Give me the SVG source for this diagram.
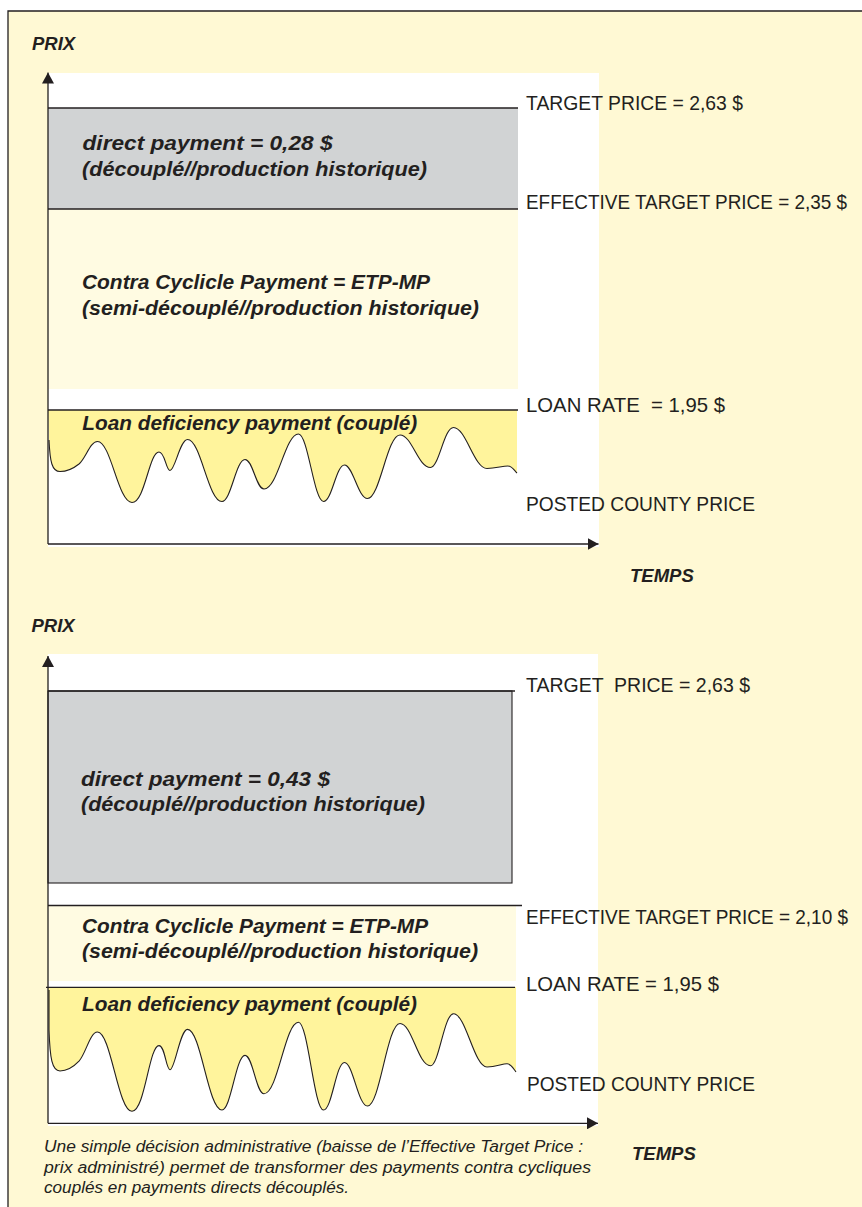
<svg xmlns="http://www.w3.org/2000/svg" width="862" height="1207" viewBox="0 0 862 1207">
<style>
.bg{fill:#FFF9D4}
.panel{fill:#FFFFFF}
.gray{fill:#D1D3D4}
.cream{fill:#FFFBE2}
.ldp{fill:#FFF49C}
.ln{stroke:#231F20;stroke-width:1.3;fill:none}
.wave{stroke:#231F20;stroke-width:1.1;fill:none}
.lbl{font-family:"Liberation Sans",Arial,sans-serif;font-size:21px;fill:#231F20}
.bi{font-family:"Liberation Sans",Arial,sans-serif;font-weight:bold;font-style:italic;font-size:21px;fill:#231F20}
.ax{font-family:"Liberation Sans",Arial,sans-serif;font-weight:bold;font-style:italic;font-size:18.5px;fill:#231F20}
.note{font-family:"Liberation Sans",Arial,sans-serif;font-style:italic;font-size:16px;fill:#231F20}
</style>
<defs>
<marker id="arr" viewBox="0 0 11 12" refX="11" refY="6" markerWidth="11" markerHeight="12" markerUnits="userSpaceOnUse" orient="auto">
<path d="M0,0 L11,6 L0,12 Z" fill="#231F20"/>
</marker>
</defs>
<rect x="0" y="0" width="862" height="1207" fill="#FFFFFF"/>
<g id="frame">
<rect class="bg" x="8" y="11" width="854" height="1196"/>
<path class="ln" d="M8,1207 L8,11 L862,11"/>
</g>

<g id="chart1">
<rect class="panel" x="48" y="73" width="551" height="474"/>
<g id="direct-payment-1">
<rect class="gray" x="48" y="108" width="470" height="101"/>
<text class="bi" x="82.5" y="150" textLength="250" lengthAdjust="spacingAndGlyphs">direct payment = 0,28 $</text>
<text class="bi" x="82" y="176" textLength="345" lengthAdjust="spacingAndGlyphs">(découplé//production historique)</text>
</g>
<g id="ccp-1">
<rect class="cream" x="48" y="209" width="470" height="180"/>
<text class="bi" x="82" y="289" textLength="348" lengthAdjust="spacingAndGlyphs">Contra Cyclicle Payment = ETP-MP</text>
<text class="bi" x="82" y="315" textLength="397" lengthAdjust="spacingAndGlyphs">(semi-découplé//production historique)</text>
</g>
<g id="ldp-1">
<path class="ldp" d="M48,410 L49,440 C50,462 52,471.5 60,471.5 C68,471.5 74,468 79,464 C86,458 90,441.5 97.5,441.5 C111,441.5 118,502.5 132,502.5 C145,502.5 149,452 159,452 C165,452 166,470.5 170,470.5 C175,470.5 180,439.5 187.5,439.5 C201,439.5 208,501.5 222,501.5 C231,501.5 236,459.5 245,459.5 C253,459.5 256,489 264,489 C278,489 285,434 298.5,434 C308,434 314,501.5 323.5,501.5 C332,501.5 336,465 344.5,465 C353,465 358,498.5 367.5,498.5 C380,498.5 387,435 400,435 C412,435 418,467.5 430.5,467.5 C439,467.5 444,427.5 453.5,427.5 C466,427.5 474,468.5 487,468.5 C496,468.5 502,466 508,466 C512,466 514,470 517,473 L517,410 Z"/>
<path class="wave" d="M49,440 C50,462 52,471.5 60,471.5 C68,471.5 74,468 79,464 C86,458 90,441.5 97.5,441.5 C111,441.5 118,502.5 132,502.5 C145,502.5 149,452 159,452 C165,452 166,470.5 170,470.5 C175,470.5 180,439.5 187.5,439.5 C201,439.5 208,501.5 222,501.5 C231,501.5 236,459.5 245,459.5 C253,459.5 256,489 264,489 C278,489 285,434 298.5,434 C308,434 314,501.5 323.5,501.5 C332,501.5 336,465 344.5,465 C353,465 358,498.5 367.5,498.5 C380,498.5 387,435 400,435 C412,435 418,467.5 430.5,467.5 C439,467.5 444,427.5 453.5,427.5 C466,427.5 474,468.5 487,468.5 C496,468.5 502,466 508,466 C512,466 514,470 517,473"/>
<text class="bi" x="82.3" y="430" textLength="335" lengthAdjust="spacingAndGlyphs">Loan deficiency payment (couplé)</text>
</g>
<g id="levels-1">
<line class="ln" x1="48" y1="108" x2="518" y2="108"/>
<line class="ln" x1="48" y1="209" x2="518" y2="209"/>
<line class="ln" x1="48" y1="410" x2="518" y2="410"/>
</g>
<g id="labels-1">
<text class="lbl" x="526" y="110" textLength="217" lengthAdjust="spacingAndGlyphs">TARGET PRICE = 2,63 $</text>
<text class="lbl" x="526" y="209" textLength="321" lengthAdjust="spacingAndGlyphs">EFFECTIVE TARGET PRICE = 2,35 $</text>
<text class="lbl" x="526" y="412" textLength="199" lengthAdjust="spacingAndGlyphs" xml:space="preserve">LOAN RATE  = 1,95 $</text>
<text class="lbl" x="526" y="511" textLength="229" lengthAdjust="spacingAndGlyphs">POSTED COUNTY PRICE</text>
</g>
<g id="axis-labels-1">
<text class="ax" x="32" y="50">PRIX</text>
<text class="ax" x="630" y="582">TEMPS</text>
</g>
</g>

<g id="chart2">
<rect class="panel" x="48" y="654" width="550" height="472"/>
<g id="direct-payment-2">
<rect class="gray" x="48" y="691" width="464" height="192" stroke="#231F20" stroke-width="1.1"/>
<text class="bi" x="81" y="786" textLength="249" lengthAdjust="spacingAndGlyphs">direct payment = 0,43 $</text>
<text class="bi" x="81" y="811" textLength="344" lengthAdjust="spacingAndGlyphs">(découplé//production historique)</text>
</g>
<g id="ccp-2">
<rect class="cream" x="48" y="905.5" width="468" height="75.5"/>
<text class="bi" x="82" y="933" textLength="346" lengthAdjust="spacingAndGlyphs">Contra Cyclicle Payment = ETP-MP</text>
<text class="bi" x="82" y="958" textLength="396" lengthAdjust="spacingAndGlyphs">(semi-découplé//production historique)</text>
</g>
<g id="ldp-2">
<path class="ldp" d="M48,987 L49,1030 C50,1058.6 52,1071 60,1071 C68,1071 74,1066.4 79,1061.2 C86,1053.4 90,1032 97.5,1032 C111,1032 118,1111.3 132,1111.3 C145,1111.3 149,1045.6 159,1045.6 C165,1045.6 166,1069.7 170,1069.7 C175,1069.7 180,1029.4 187.5,1029.4 C201,1029.4 208,1110 222,1110 C231,1110 236,1055.4 245,1055.4 C253,1055.4 256,1093.7 264,1093.7 C278,1093.7 285,1022.2 298.5,1022.2 C308,1022.2 314,1110 323.5,1110 C332,1110 336,1062.5 344.5,1062.5 C353,1062.5 358,1106 367.5,1106 C380,1106 387,1023.5 400,1023.5 C412,1023.5 418,1065.8 430.5,1065.8 C439,1065.8 444,1013.8 453.5,1013.8 C466,1013.8 474,1067 487,1067 C496,1067 502,1063.8 507,1063.8 C511,1063.8 513,1068 516,1072 L516,987 Z"/>
<path class="wave" d="M49,990 L49,1030 C50,1058.6 52,1071 60,1071 C68,1071 74,1066.4 79,1061.2 C86,1053.4 90,1032 97.5,1032 C111,1032 118,1111.3 132,1111.3 C145,1111.3 149,1045.6 159,1045.6 C165,1045.6 166,1069.7 170,1069.7 C175,1069.7 180,1029.4 187.5,1029.4 C201,1029.4 208,1110 222,1110 C231,1110 236,1055.4 245,1055.4 C253,1055.4 256,1093.7 264,1093.7 C278,1093.7 285,1022.2 298.5,1022.2 C308,1022.2 314,1110 323.5,1110 C332,1110 336,1062.5 344.5,1062.5 C353,1062.5 358,1106 367.5,1106 C380,1106 387,1023.5 400,1023.5 C412,1023.5 418,1065.8 430.5,1065.8 C439,1065.8 444,1013.8 453.5,1013.8 C466,1013.8 474,1067 487,1067 C496,1067 502,1063.8 507,1063.8 C511,1063.8 513,1068 516,1072"/>
<text class="bi" x="82" y="1011" textLength="335" lengthAdjust="spacingAndGlyphs">Loan deficiency payment (couplé)</text>
</g>
<g id="levels-2">
<line class="ln" x1="48" y1="691" x2="515" y2="691"/>
<line class="ln" x1="48" y1="905.5" x2="522" y2="905.5"/>
<line class="ln" x1="46" y1="987.3" x2="515" y2="987.3"/>
</g>
<g id="labels-2">
<text class="lbl" x="526" y="692" textLength="224" lengthAdjust="spacingAndGlyphs" xml:space="preserve">TARGET  PRICE = 2,63 $</text>
<text class="lbl" x="526" y="924" textLength="322" lengthAdjust="spacingAndGlyphs">EFFECTIVE TARGET PRICE = 2,10 $</text>
<text class="lbl" x="526" y="991" textLength="193" lengthAdjust="spacingAndGlyphs">LOAN RATE = 1,95 $</text>
<text class="lbl" x="527" y="1090.5" textLength="228" lengthAdjust="spacingAndGlyphs">POSTED COUNTY PRICE</text>
</g>
<g id="axis-labels-2">
<text class="ax" x="31.5" y="632">PRIX</text>
<text class="ax" x="632" y="1160">TEMPS</text>
</g>
</g>

<g id="connectors">
<line class="ln" x1="48" y1="544" x2="48" y2="72.5" stroke-width="1.5" marker-end="url(#arr)"/>
<line class="ln" x1="48" y1="544" x2="598.5" y2="544" stroke-width="1.5" marker-end="url(#arr)"/>
<line class="ln" x1="48" y1="1123.3" x2="48" y2="656" stroke-width="1.5" marker-end="url(#arr)"/>
<line class="ln" x1="48" y1="1123.3" x2="598" y2="1123.3" stroke-width="1.5" marker-end="url(#arr)"/>
</g>

<g id="footnote">
<text class="note" x="44" y="1152" textLength="539" lengthAdjust="spacingAndGlyphs">Une simple décision administrative (baisse de l’Effective Target Price :</text>
<text class="note" x="44" y="1173" textLength="547" lengthAdjust="spacingAndGlyphs">prix administré) permet de transformer des payments contra cycliques</text>
<text class="note" x="44" y="1193" textLength="305" lengthAdjust="spacingAndGlyphs">couplés en payments directs découplés.</text>
</g>
</svg>
